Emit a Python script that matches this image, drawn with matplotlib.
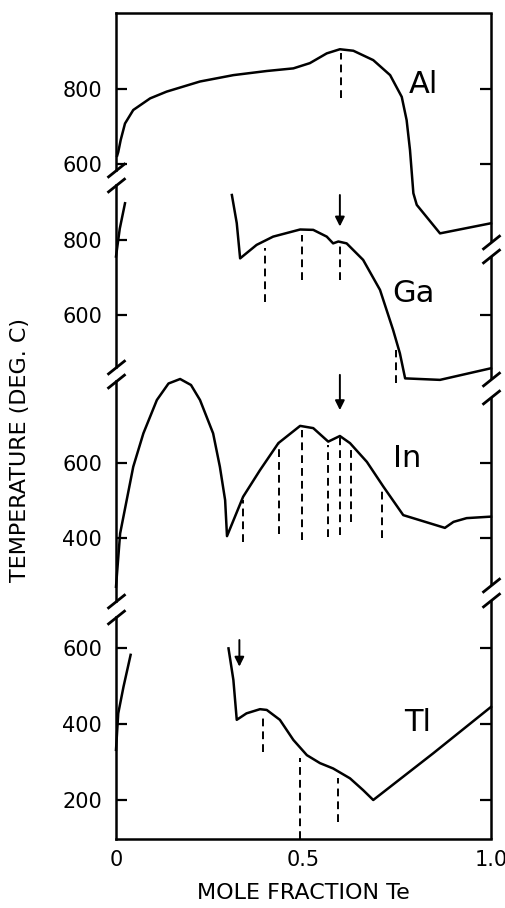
import matplotlib
matplotlib.use("Agg")
import matplotlib.pyplot as plt
import matplotlib.transforms as mtrans
from matplotlib.markers import TICKLEFT

# ---------------- data (mole fraction Te, temperature deg C) ----------------
al_x = [0.003, 0.006, 0.0125, 0.024, 0.046, 0.091, 0.135, 0.224, 0.313, 0.402,
        0.473, 0.517, 0.562, 0.597, 0.633, 0.686, 0.731, 0.762, 0.775, 0.784,
        0.793, 0.802, 0.864, 1.0]
al_T = [622, 632, 664, 708, 744, 775, 793, 820, 837, 848,
        855, 869, 895, 906, 902, 877, 837, 779, 717, 637,
        522, 491, 415, 442]
al_dash_x = [0.6]
al_dash_top = [895]
al_dash_bot = [775]

ga_left_x = [0.0, 0.01, 0.024]
ga_left_T = [756, 830, 898]
ga_x = [0.309, 0.322, 0.331, 0.375, 0.419, 0.491, 0.526, 0.562, 0.579, 0.593,
        0.615, 0.659, 0.704, 0.739, 0.757, 0.771, 0.864, 1.0]
ga_T = [920, 845, 751, 787, 809, 828, 827, 809, 791, 796,
        791, 747, 667, 560, 498, 431, 427, 458]
ga_dash_x = [0.397, 0.497, 0.597, 0.746]
ga_dash_top = [778, 813, 787, 507]
ga_dash_bot = [635, 693, 693, 418]
ga_arrow = (0.597, 920, 836)

in_x = [0.0, 0.011, 0.046, 0.073, 0.109, 0.14, 0.171, 0.2, 0.224, 0.259,
        0.277, 0.291, 0.296, 0.339, 0.384, 0.433, 0.491, 0.526, 0.566, 0.597,
        0.624, 0.669, 0.713, 0.766, 0.877, 0.9, 0.935, 1.0]
in_T = [270, 412, 590, 679, 768, 812, 824, 808, 768, 679,
        590, 501, 405, 510, 581, 653, 699, 693, 657, 672,
        653, 603, 537, 461, 427, 443, 453, 457]
in_dash_x = [0.338, 0.435, 0.495, 0.566, 0.597, 0.627, 0.708]
in_dash_top = [501, 652, 688, 648, 670, 648, 537]
in_dash_bot = [390, 412, 395, 403, 408, 443, 399]
in_arrow = (0.597, 835, 741)

tl_left_x = [0.0, 0.006, 0.02, 0.039]
tl_left_T = [332, 428, 498, 582]
tl_x = [0.3, 0.313, 0.322, 0.348, 0.384, 0.402, 0.437, 0.473, 0.509, 0.544,
        0.579, 0.624, 0.659, 0.686, 0.846, 1.0]
tl_T = [599, 516, 411, 428, 439, 437, 411, 358, 318, 297,
        283, 257, 226, 200, 323, 445]
tl_dash_x = [0.393, 0.491, 0.591]
tl_dash_top = [424, 310, 257]
tl_dash_bot = [327, 97, 143]
tl_arrow = (0.329, 621, 551)

x_ticks = [0, 0.5, 1.0]
x_ticklabels = ["0", "0.5", "1.0"]
xlabel = "MOLE FRACTION Te"
ylabel = "TEMPERATURE (DEG. C)"

# ---------------- layout (pixel geometry of the reference) ----------------
W, H = 506, 908
XL, XR = 116, 491
panels = [
    dict(name="Al", lx=0.82, lT=813, ref_T=800, ref_px=89, s=0.375,
         top=13, bot=170, rtop=13, rbot=242, ticks=[600, 800], rticks=[600, 800],
         curves=[(al_x, al_T)], dash=(al_dash_x, al_dash_top, al_dash_bot), arrow=None),
    dict(name="Ga", lx=0.792, lT=656, ref_T=800, ref_px=240, s=0.375,
         top=185, bot=367, rtop=256, rbot=379, ticks=[600, 800], rticks=[600],
         curves=[(ga_left_x, ga_left_T), (ga_x, ga_T)],
         dash=(ga_dash_x, ga_dash_top, ga_dash_bot), arrow=ga_arrow),
    dict(name="In", lx=0.776, lT=613, ref_T=600, ref_px=463, s=0.375,
         top=381, bot=601, rtop=397, rbot=585, ticks=[400, 600], rticks=[400, 600],
         curves=[(in_x, in_T)], dash=(in_dash_x, in_dash_top, in_dash_bot), arrow=in_arrow),
    dict(name="Tl", lx=0.803, lT=403, ref_T=400, ref_px=724, s=0.38,
         top=617, bot=839, rtop=600, rbot=839, ticks=[200, 400, 600], rticks=[200, 400, 600],
         curves=[(tl_left_x, tl_left_T), (tl_x, tl_T)],
         dash=(tl_dash_x, tl_dash_top, tl_dash_bot), arrow=tl_arrow),
]

LW = 1.8
fig = plt.figure(figsize=(W / 100, H / 100), dpi=100)
plt.rcParams['font.family'] = ['DejaVu Sans']

slash = [(-1, -0.8), (1, 0.8)]

def T_at(p, py):
    return p["ref_T"] + (p["ref_px"] - py) / p["s"]

n = len(panels)
for i, p in enumerate(panels):
    ymax = T_at(p, p["top"])
    ymin = T_at(p, p["bot"])
    ax = fig.add_axes([XL / W, 1 - p["bot"] / H, (XR - XL) / W, (p["bot"] - p["top"]) / H])
    ax.set_facecolor("none")
    ax.set_xlim(0, 1)
    ax.set_ylim(ymin, ymax)
    for side in ["top", "bottom", "right", "left"]:
        ax.spines[side].set_linewidth(LW)
    ax.spines["right"].set_visible(False)
    ax.spines["top"].set_visible(i == 0)
    ax.spines["bottom"].set_visible(i == n - 1)

    ax.set_yticks(p["ticks"])
    ax.set_yticklabels([str(t) for t in p["ticks"]])
    ax.tick_params(axis="y", direction="in", length=8, width=1.6, labelsize=15, pad=10)
    if i == n - 1:
        ax.set_xticks(x_ticks)
        ax.set_xticklabels(x_ticklabels)
        ax.tick_params(axis="x", length=0, labelsize=15, pad=8)
        ax.set_xlabel(xlabel, fontsize=16, labelpad=9)
    else:
        ax.set_xticks([])

    blend = mtrans.blended_transform_factory(ax.transAxes, ax.transData)
    # right spine segment
    rt, rb = T_at(p, p["rtop"]), T_at(p, p["rbot"])
    ax.plot([1, 1], [rb, rt], color="k", lw=LW, transform=blend, clip_on=False,
            solid_capstyle="butt")
    for t in p["rticks"]:
        ax.plot([1], [t], marker=TICKLEFT, markersize=8, markeredgewidth=1.6,
                color="k", transform=blend, clip_on=False)
    # break marks
    if i < n - 1:
        ax.plot([0], [ymin], marker=slash, markersize=13, markeredgewidth=2,
                color="k", transform=blend, clip_on=False)
        ax.plot([1], [rb], marker=slash, markersize=13, markeredgewidth=2,
                color="k", transform=blend, clip_on=False)
    if i > 0:
        ax.plot([0], [ymax], marker=slash, markersize=13, markeredgewidth=2,
                color="k", transform=blend, clip_on=False)
        ax.plot([1], [rt], marker=slash, markersize=13, markeredgewidth=2,
                color="k", transform=blend, clip_on=False)

    for cx, cT in p["curves"]:
        ax.plot(cx, cT, color="k", lw=LW, clip_on=False, solid_joinstyle="round")
    dx, dtop, dbot = p["dash"]
    for xx, a, b in zip(dx, dtop, dbot):
        ax.plot([xx, xx], [b, a], color="k", lw=1.4, linestyle=(0, (4, 2.6)), clip_on=False)
    if p["arrow"] is not None:
        axx, a0, a1 = p["arrow"]
        ax.annotate("", xy=(axx, a1), xytext=(axx, a0), annotation_clip=False,
                    arrowprops=dict(arrowstyle="-|>", lw=1.4, color="k",
                                    mutation_scale=14, shrinkA=0, shrinkB=0))
    ax.text(p["lx"], p["lT"], p["name"], fontsize=22, ha="center", va="center")

fig.text(20 / W, 1 - 450 / H, ylabel, rotation=90, ha="center", va="center", fontsize=16)

fig.savefig("out.png", dpi=100)
